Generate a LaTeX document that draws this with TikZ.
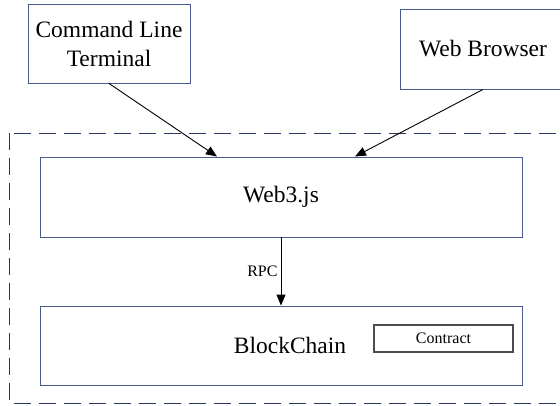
\documentclass[tikz,border=0pt]{standalone}
\usepackage{fontspec}
\setmainfont{Liberation Serif}
\usetikzlibrary{arrows.meta}
\definecolor{boxblue}{RGB}{72,92,145}
\definecolor{framenavy}{RGB}{40,55,100}
\begin{document}
\begin{tikzpicture}[x=1pt,y=-1pt]
		\tikzstyle{block}=[rectangle,draw=boxblue,line width=0.9pt,fill=white,font=\fontsize{23.5}{29}\selectfont,align=center,inner sep=0pt]
		\tikzstyle{small}=[rectangle,draw=black!70,line width=1.1pt,fill=white,font=\fontsize{16}{19}\selectfont,inner sep=0pt]
		\tikzstyle{edge}=[draw, line width=0.9pt, -{Triangle[length=11pt,width=9pt]}]
		\useasboundingbox (0,0) rectangle (560,405);
		\begin{scope}
			% dashed frame
			\draw[framenavy, line width=1pt, dash pattern=on 17pt off 8pt] (9,133) rectangle (575,403);
			\node [block, minimum width=162pt, minimum height=79pt] (term) at (109,43.5) {Command Line\\Terminal};
			\node [block, minimum width=166pt, minimum height=80pt] (browser) at (483,49) {Web Browser};
			\node [block, minimum width=482pt, minimum height=80pt] (web3) at (281,197) {Web3.js};
			\node [block, minimum width=482pt, minimum height=79pt] (chain) at (281,345.5) {\hspace*{18pt}BlockChain};
			\node [small, minimum width=139pt, minimum height=27pt] (contract) at (443.5,338.5) {Contract};
			\path[edge] (term.south) -- ([xshift=-64pt]web3.north);
			\path[edge] (browser.south) -- ([xshift=74pt]web3.north);
			\path[edge] (web3.south) -- node[left, inner sep=3pt, font=\fontsize{16}{19}\selectfont] {RPC} (chain.north);
		\end{scope}
\end{tikzpicture}
\end{document}
